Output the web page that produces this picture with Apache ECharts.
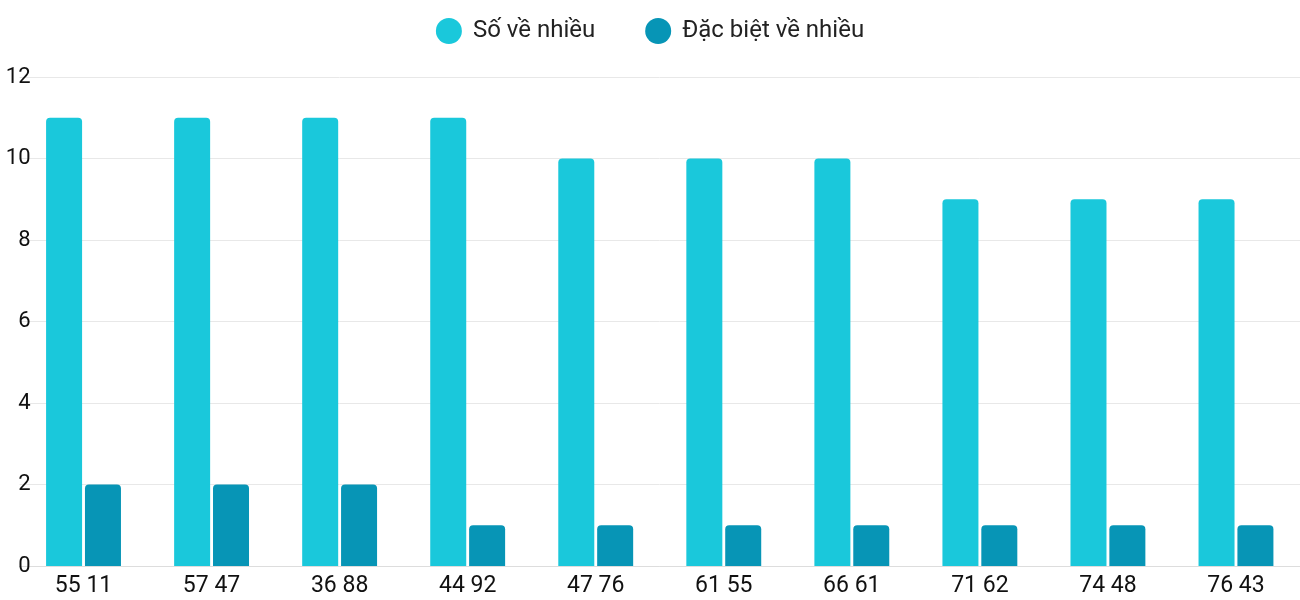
<!DOCTYPE html>
<html>
<head>
<meta charset="UTF-8">
<script src="https://cdn.jsdelivr.net/npm/echarts@6/dist/echarts.min.js"></script>
<style>html,body{margin:0;background:#fff}#c{width:1300px;height:600px}</style>
</head>
<body>
<div id="c"></div>
<script>
var categories = ['55 11', '57 47', '36 88', '44 92', '47 76', '61 55', '66 61', '71 62', '74 48', '76 43'];
var soVeNhieu = [11, 11, 11, 11, 10, 10, 10, 9, 9, 9];
var dacBietVeNhieu = [2, 2, 2, 1, 1, 1, 1, 1, 1, 1];

var chart = echarts.init(document.getElementById('c'));
chart.setOption({
    textStyle: { fontFamily: 'Roboto' },
    legend: {
        top: 13, left: 'center', icon: 'circle', itemWidth: 26, itemHeight: 26, itemGap: 50,
        textStyle: { fontSize: 24, color: '#222', padding: [0, 0, 0, 6] }
    },
    grid: { left: 19.5, width: 1310, top: 77, bottom: 34 },
    xAxis: {
        type: 'category', data: categories,
        axisLine: { lineStyle: { color: '#ddd' } }, axisTick: { show: false },
        axisLabel: { fontSize: 23, color: '#111', margin: 9 }
    },
    yAxis: {
        type: 'value', min: 0, max: 12, interval: 2,
        axisLabel: { fontSize: 22, color: '#111', margin: -11 },
        splitLine: { lineStyle: { color: '#e8e8e8' } }
    },
    series: [
        { name: 'Số về nhiều', type: 'bar', data: soVeNhieu, barWidth: 36, barGap: '8%',
          itemStyle: { color: '#1ac8db', borderRadius: [4, 4, 0, 0] } },
        { name: 'Đặc biệt về nhiều', type: 'bar', data: dacBietVeNhieu, barWidth: 36,
          itemStyle: { color: '#0795b6', borderRadius: [4, 4, 0, 0] } }
    ]
});
</script>
</body>
</html>
